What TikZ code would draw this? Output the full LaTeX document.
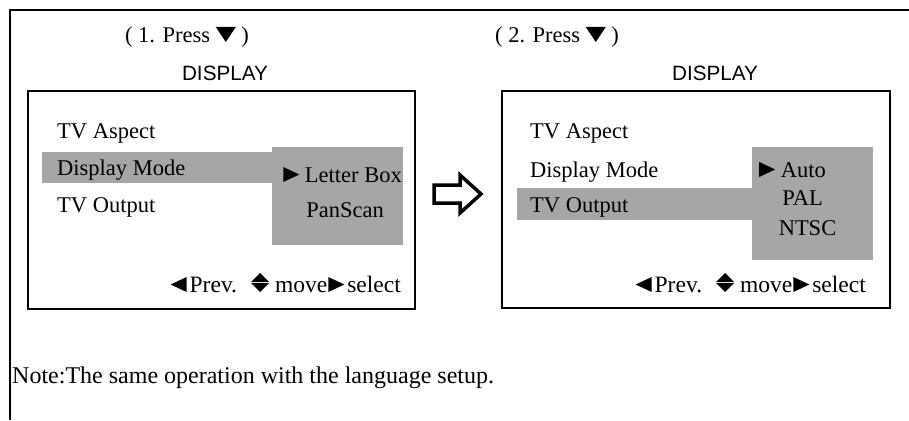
\documentclass[tikz,border=0pt]{standalone}
\usepackage{fontspec}
\setmainfont{Liberation Serif}
\newfontfamily\dispfont{Liberation Sans}
\usetikzlibrary{positioning}
\definecolor{menugray}{RGB}{166,166,166}
\newcommand\rtri{\tikz[baseline=0pt,x=1pt,y=1pt]\fill (0,0)--(0,15)--(16,7.5)--cycle;}
\newcommand\ltri{\tikz[baseline=0pt,x=1pt,y=1pt]\fill (16,0)--(16,15)--(0,7.5)--cycle;}
\newcommand\dtri{\tikz[baseline=0pt,x=1pt,y=1pt]\fill (0,15)--(20,15)--(10,0)--cycle;}
\newcommand\udtri{\tikz[baseline=-2pt,x=1pt,y=1pt]{\fill (0,8)--(18,8)--(9,17)--cycle; \fill (0,7)--(18,7)--(9,-2)--cycle;}}
\newcommand\keyhint{{\ltri}\hspace{3pt}Prev.\hspace{14pt}{\udtri}\hspace{6pt}move\hspace{1pt}{\rtri}\hspace{3pt}select}
\tikzset{
  screenbox/.style={draw, line width=1.8pt, inner sep=0pt},
  hilite/.style={fill=menugray, draw=none},
  menuitem/.style={anchor=base west, inner sep=0pt, font=\fontsize{22.5}{26}\selectfont},
  choice/.style={anchor=base, inner sep=0pt, font=\fontsize{22.5}{26}\selectfont},
  heading/.style={anchor=base, inner sep=0pt, font=\fontsize{22.5}{26}\selectfont},
  disptitle/.style={anchor=base, inner sep=0pt, font=\dispfont\fontsize{20.7}{24}\selectfont},
  hint/.style={anchor=base east, inner sep=0pt, font=\fontsize{23.5}{26}\selectfont}
}

\begin{document}
\begin{tikzpicture}[x=1pt, y=1pt]
  \useasboundingbox (0,0) rectangle (909,-420);
  % outer frame (only top and left edge show)
  \draw[line width=1.5pt] (10,-420) -- (10,-10) -- (909,-10);

  % step 1
  \node[heading] (press1) at (187,-42) {( 1. Press {\dtri} )};
  \node[disptitle] (title1) at (225,-80) {DISPLAY};
  \fill[hilite] (42,-152) rectangle (272,-183);
  \fill[hilite] (272,-147) rectangle (403,-245);
  \node[screenbox, minimum width=387pt, minimum height=218pt] (screen1) at (221.5,-200) {};
  \node[menuitem] (aspect1) at (57,-138) {TV Aspect};
  \node[menuitem] (mode1) at (57,-175) {Display Mode};
  \node[menuitem] (output1) at (57,-212) {TV Output};
  \node[choice] (letterbox) at (342.5,-182) {{\rtri} Letter Box};
  \node[choice] (panscan) at (345,-217) {PanScan};
  \node[hint] (keys1) at (401,-292) {\keyhint};

  % arrow between the screens
  \draw[line width=3.5pt, line join=miter] (434,-185) -- (460,-185) -- (460,-175)
    -- (481,-194) -- (460,-213) -- (460,-203) -- (434,-203) -- cycle;

  % step 2
  \node[heading] (press2) at (557,-42) {( 2. Press {\dtri} )};
  \node[disptitle] (title2) at (715,-80) {DISPLAY};
  \fill[hilite] (517,-188) rectangle (752,-220);
  \fill[hilite] (752,-147) rectangle (873,-260);
  \node[screenbox, minimum width=388pt, minimum height=217pt] (screen2) at (696,-199.5) {};
  \node[menuitem] (aspect2) at (530,-138) {TV Aspect};
  \node[menuitem] (mode2) at (530,-177) {Display Mode};
  \node[menuitem] (output2) at (530,-212) {TV Output};
  \node[choice] (auto) at (792.5,-177) {{\rtri} Auto};
  \node[choice] (pal) at (802.5,-205) {PAL};
  \node[choice] (ntsc) at (807.5,-235) {NTSC};
  \node[hint] (keys2) at (866,-292) {\keyhint};

  \node[anchor=base west, inner sep=0pt, font=\fontsize{24}{28}\selectfont] (note) at (12,-383)
    {Note:The same operation with the language setup.};
\end{tikzpicture}
\end{document}
